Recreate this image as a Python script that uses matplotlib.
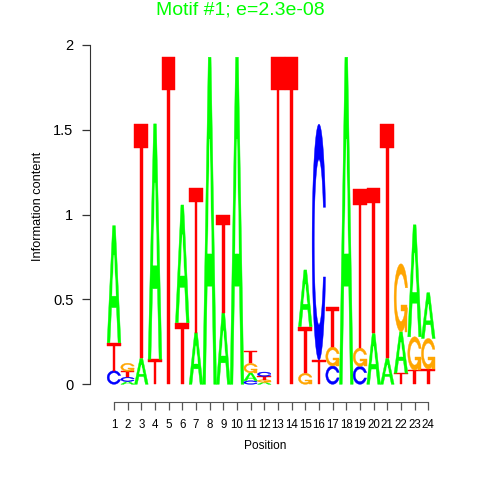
import numpy as np
import matplotlib
matplotlib.use("Agg")
import matplotlib.pyplot as plt
from matplotlib.patches import Polygon

plt.rcParams['font.family'] = ['Liberation Sans', 'DejaVu Sans']

# ---- data: information content carried by each base at each position ----
positions = list(range(1, 25))
bases = ["A", "C", "G", "T"]
height_A = [0.690, 0.016, 0.153, 1.388, 0.000, 0.694, 0.304, 1.928, 0.422, 1.928,
            0.047, 0.012, 0.000, 0.000, 0.334, 0.000, 0.000, 1.928, 0.000, 0.300,
            0.153, 0.244, 0.660, 0.270]
height_C = [0.080, 0.026, 0.000, 0.000, 0.000, 0.000, 0.000, 0.000, 0.000, 0.000,
            0.021, 0.025, 0.000, 0.000, 0.000, 1.390, 0.108, 0.000, 0.106, 0.000,
            0.000, 0.000, 0.000, 0.000]
height_G = [0.000, 0.047, 0.000, 0.000, 0.000, 0.000, 0.000, 0.000, 0.000, 0.000,
            0.055, 0.015, 0.000, 0.000, 0.065, 0.000, 0.112, 0.000, 0.108, 0.000,
            0.000, 0.400, 0.196, 0.180]
height_T = [0.165, 0.035, 1.380, 0.147, 1.928, 0.363, 0.855, 0.000, 0.576, 0.000,
            0.072, 0.020, 1.928, 1.928, 0.275, 0.143, 0.235, 0.000, 0.938, 0.856,
            1.380, 0.066, 0.084, 0.090]
y_ticks = [0, 0.5, 1, 1.5, 2]
y_tick_labels = ["0", "0.5", "1", "1.5", "2"]
title_text = "Motif #1; e=2.3e-08"
x_label = "Position"
y_label = "Information content"

colors = {"A": "#00FF00", "C": "#0000FF", "G": "#FFA500", "T": "#FF0000"}


# ---- letter shapes (unit box 0..1) ----
def shape_A():
    x = np.array([0, 4, 6, 10, 8, 6.8, 3.2, 2, 0]) * 0.1
    y = np.array([0, 10, 10, 0, 0, 3, 3, 0, 0]) * 0.1
    xi = np.array([3.6, 5, 6.4, 3.6]) * 0.1
    yi = np.array([4, 7.5, 4, 4]) * 0.1
    return [(x, y, True), (xi, yi, False)]


def shape_T():
    x = np.array([0, 10, 10, 6, 6, 4, 4, 0]) * 0.1
    y = np.array([10, 10, 9, 9, 0, 0, 9, 9]) * 0.1
    return [(x, y, True)]


def ring_C():
    a1 = np.linspace(0.3 + np.pi / 2, np.pi, 100)
    a2 = np.linspace(np.pi, 1.5 * np.pi, 100)
    xl1 = 0.5 + 0.5 * np.sin(a1)
    yl1 = 0.5 + 0.5 * np.cos(a1)
    xl2 = 0.5 + 0.5 * np.sin(a2)
    yl2 = 0.5 + 0.5 * np.cos(a2)
    xl = np.concatenate([xl1, xl2])
    yl = np.concatenate([yl1, yl2])
    x = np.concatenate([xl, xl[::-1]])
    y = np.concatenate([yl, 1 - yl[::-1]])
    xi1 = 0.5 + 0.35 * np.sin(a1)
    yi1 = 0.5 + 0.35 * np.cos(a1)
    keep = yi1 <= yl1.max()
    xi1 = xi1[keep]
    yi1 = yi1[keep]
    yi1[0] = yl1.max()
    xi2 = 0.5 + 0.35 * np.sin(a2)
    yi2 = 0.5 + 0.35 * np.cos(a2)
    xi = np.concatenate([xi1, xi2])
    yi = np.concatenate([yi1, yi2])
    x1 = np.concatenate([xi, xi[::-1]])
    y1 = np.concatenate([yi, 1 - yi[::-1]])
    x = np.concatenate([x, x1[::-1]])
    y = np.concatenate([y, y1[::-1]])
    return x, y, xl1


def shape_C():
    x, y, _ = ring_C()
    return [(x, y, True)]


def shape_G():
    x, y, xl1 = ring_C()
    r1 = xl1.max()
    h1 = 0.4
    xa = np.array([r1, 0.5, 0.5, r1 - 0.2, r1 - 0.2, r1, r1])
    ya = np.array([h1, h1, h1 - 0.1, h1 - 0.1, 0, 0, h1])
    return [(x, y, True), (xa, ya, True)]


shapes = {"A": shape_A(), "C": shape_C(), "G": shape_G(), "T": shape_T()}

# ---- figure layout ----
W, H = 480, 480
fig = plt.figure(figsize=(4.8, 4.8), dpi=100)
px_left, px_right = 90, 440
px_top, px_bottom = 40, 402
y0_px, y2_px = 384.3, 45.0
x1_px, x24_px = 114.0, 428.3
ppu_y = (y0_px - y2_px) / 2.0
ppu_x = (x24_px - x1_px) / 23.0
xlim = (1 + (px_left - x1_px) / ppu_x, 1 + (px_right - x1_px) / ppu_x)
ylim = ((y0_px - px_bottom) / ppu_y, (y0_px - px_top) / ppu_y)

ax = fig.add_axes([px_left / W, 1 - px_bottom / H,
                   (px_right - px_left) / W, (px_bottom - px_top) / H])
ax.set_xlim(*xlim)
ax.set_ylim(*ylim)

heights = {"A": height_A, "C": height_C, "G": height_G, "T": height_T}
for i, p in enumerate(positions):
    col = [(heights[b][i], k, b) for k, b in enumerate(bases) if heights[b][i] > 0]
    col.sort()
    base_y = 0.0
    for h, _, b in col:
        for (sx, sy, filled) in shapes[b]:
            xs = (p - 0.5) + sx
            ys = base_y + h * sy
            fc = colors[b] if filled else "white"
            ax.add_patch(Polygon(np.column_stack([xs, ys]), closed=True,
                                 facecolor=fc, edgecolor=fc, linewidth=0.3,
                                 antialiased=True))
        base_y += h

# axes styling (R-like)
for s in ["top", "right"]:
    ax.spines[s].set_visible(False)
ax.spines["left"].set_bounds(0, 2)
ax.spines["bottom"].set_bounds(1, 24)
ax.spines["left"].set_color("#333333")
ax.spines["bottom"].set_color("#555555")
ax.set_yticks(y_ticks)
ax.set_yticklabels(y_tick_labels, fontsize=10.5)
ax.set_xticks(positions)
ax.set_xticklabels([str(p) for p in positions], fontsize=8.3)
ax.tick_params(axis="y", length=6, width=0.9, pad=6, color="#333333")
ax.tick_params(axis="x", length=5.5, width=0.9, pad=7, color="#555555")
ax.set_xlabel(x_label, fontsize=8.6, labelpad=6)
ax.set_ylabel(y_label, fontsize=9.2)
ax.yaxis.set_label_coords((44 - px_left) / (px_right - px_left),
                          (px_bottom - 206) / (px_bottom - px_top))
fig.text(0.5, 1 - 10 / H, title_text, color="#00FF00", fontsize=14,
         ha="center", va="center")

fig.savefig("out.png", dpi=100)
